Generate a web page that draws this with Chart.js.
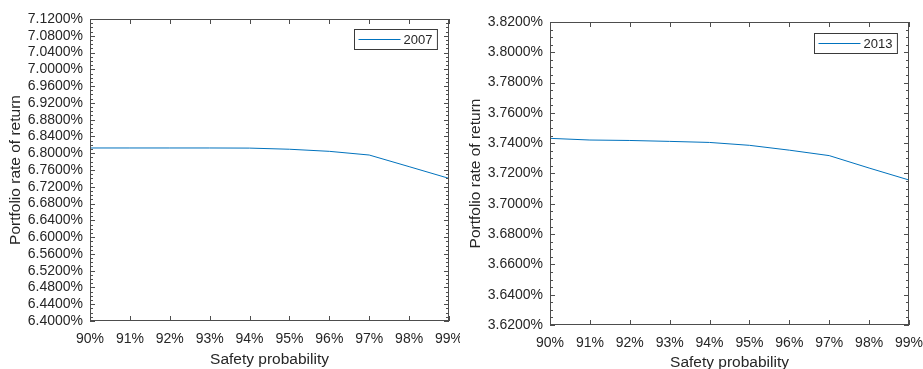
<!DOCTYPE html>
<html>
<head>
<meta charset="utf-8">
<script src="https://cdn.jsdelivr.net/npm/chart.js@4"></script>
<style>
  html, body { margin: 0; padding: 0; background: #fff; overflow: hidden; }
  body { width: 923px; height: 369px; position: relative; }
  .box { position: absolute; top: 0; }
</style>
</head>
<body>
<div class="box" style="left:0;width:460px;height:369px"><canvas id="c2007"></canvas></div>
<div class="box" style="left:460px;width:463px;height:375px"><canvas id="c2013"></canvas></div>
<script>
const probLabels = ['90%', '91%', '92%', '93%', '94%', '95%', '96%', '97%', '98%', '99%']
const return2007 = [6.8125, 6.8125, 6.8125, 6.8125, 6.8122, 6.8095, 6.8045, 6.7957, 6.768, 6.7400]
const return2013 = [3.7432, 3.7421, 3.7418, 3.7412, 3.7405, 3.7386, 3.7354, 3.7318, 3.7236, 3.7157]

const FONT = "'Liberation Sans', Arial, sans-serif"
const TEXT = '#262626'
const LINE = '#0072BD'

// box, inward ticks (major + minor) and a boxed legend, like the matlab figure
const matlabAxes = {
    id: 'matlabAxes',
    afterDraw(chart, args, opts) {
        const { ctx, chartArea: a, scales: { x, y } } = chart
        ctx.save()
        ctx.strokeStyle = '#4d4d4d'
        ctx.lineWidth = 1
        ctx.strokeRect(a.left + 0.5, a.top + 0.5, a.right - a.left - 1, a.bottom - a.top - 1)
        ctx.beginPath()
        x.ticks.forEach((t, i) => {
            const px = Math.round(x.getPixelForTick(i)) + 0.5
            ctx.moveTo(px, a.bottom); ctx.lineTo(px, a.bottom - 5)
            ctx.moveTo(px, a.top); ctx.lineTo(px, a.top + 5)
        })
        const n = Math.round((y.max - y.min) / opts.minor)
        for (let k = 0; k <= n; k++) {
            const v = y.min + k * opts.minor
            const py = Math.round(y.getPixelForValue(v)) + 0.5
            const len = k % opts.per === 0 ? 5 : 3
            ctx.moveTo(a.left, py); ctx.lineTo(a.left + len, py)
            ctx.moveTo(a.right, py); ctx.lineTo(a.right - len, py)
        }
        ctx.stroke()

        // legend
        const ds = chart.data.datasets[0]
        ctx.font = '13px ' + FONT
        const tw = ctx.measureText(ds.label).width
        const w = 4 + 42 + 3 + tw + 5
        const h = 20
        const bx = Math.round(a.right - 12 - w) + 0.5
        const by = Math.round(a.top + opts.legendTop) + 0.5
        ctx.fillStyle = '#fff'
        ctx.fillRect(bx, by, w, h)
        ctx.strokeStyle = '#3a3a3a'
        ctx.strokeRect(bx, by, w, h)
        ctx.beginPath()
        ctx.strokeStyle = LINE
        ctx.moveTo(bx + 4, by + h / 2); ctx.lineTo(bx + 46, by + h / 2)
        ctx.stroke()
        ctx.fillStyle = TEXT
        ctx.textBaseline = 'middle'
        ctx.fillText(ds.label, bx + 49, by + h / 2 + 1)
        ctx.restore()
    }
}

const makeChart = (id, label, values, yMin, yMax, step, minor, pad) => {
    return new Chart(document.getElementById(id), {
        type: 'line',
        data: {
            labels: probLabels,
            datasets: [
                {
                    label: label,
                    data: values,
                    borderColor: LINE,
                    borderWidth: 1,
                    pointRadius: 0,
                    tension: 0,
                    fill: false,
                }
            ]
        },
        plugins: [matlabAxes],
        options: {
            animation: false,
            responsive: true,
            maintainAspectRatio: false,
            events: [],
            layout: { padding: { top: pad.top, right: pad.right, left: 0, bottom: 0 } },
            plugins: {
                legend: { display: false },
                tooltip: { enabled: false },
                matlabAxes: { minor: minor, per: Math.round(step / minor), legendTop: pad.legendTop },
            },
            scales: {
                x: {
                    type: 'category',
                    offset: false,
                    grid: { display: false, drawTicks: false },
                    border: { display: false },
                    ticks: {
                        color: TEXT, font: { family: FONT, size: 14 },
                        padding: 10, maxRotation: 0, autoSkip: false,
                    },
                    title: {
                        display: true, text: 'Safety probability', color: TEXT,
                        font: { family: FONT, size: 15.5 }, padding: { top: 0, bottom: pad.xTitle },
                    },
                    afterFit: (s) => { s.height = pad.xHeight; s.paddingLeft = 0; s.paddingRight = 0 },
                },
                y: {
                    min: yMin,
                    max: yMax,
                    grid: { display: false, drawTicks: false },
                    border: { display: false },
                    ticks: {
                        stepSize: step, autoSkip: false, padding: 7,
                        color: TEXT, font: { family: FONT, size: 14 },
                        callback: (v) => v.toFixed(4) + '%',
                    },
                    title: {
                        display: true, text: 'Portfolio rate of return', color: TEXT,
                        font: { family: FONT, size: 15.5 }, padding: { top: 6, bottom: 0 },
                    },
                    afterFit: (s) => { s.width = 90 },
                }
            }
        }
    })
}

makeChart('c2007', '2007', return2007, 6.40, 7.12, 0.04, 0.01,
    { top: 19, right: 11, xHeight: 48, xTitle: 0, legendTop: 10 })
makeChart('c2013', '2013', return2013, 3.62, 3.82, 0.02, 0.005,
    { top: 22, right: 14, xHeight: 50, xTitle: 3, legendTop: 11 })
</script>
</body>
</html>
